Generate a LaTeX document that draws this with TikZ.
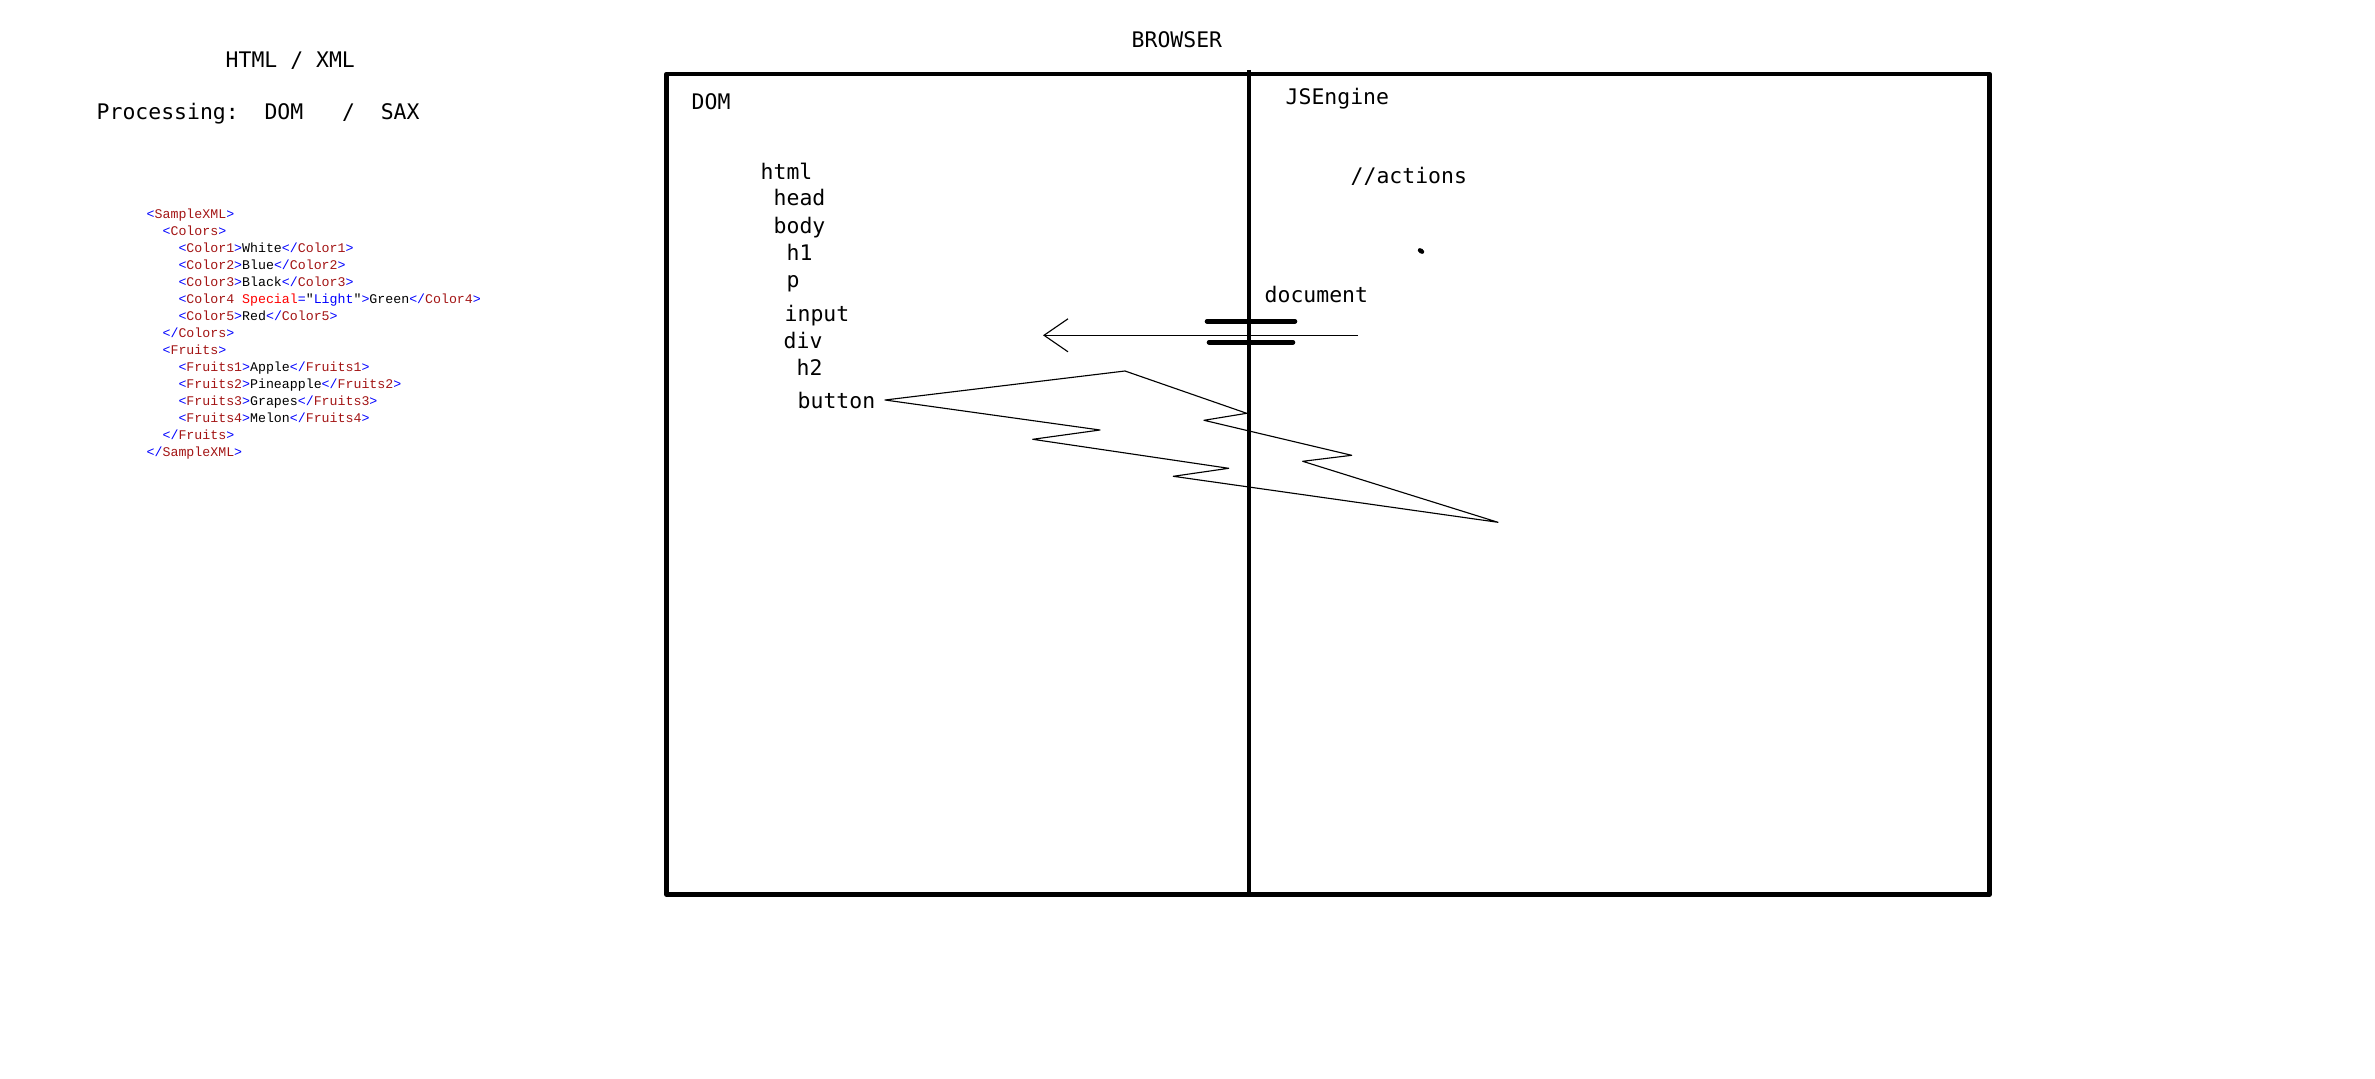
\documentclass[tikz,border=0pt]{standalone}
\usepackage{fontspec}
\setmonofont{DejaVu Sans Mono}
\newfontfamily\xmlfont{Liberation Mono}
\usetikzlibrary{arrows.meta}
\definecolor{xmlblue}{RGB}{0,0,255}
\definecolor{xmlname}{RGB}{163,21,21}
\definecolor{xmlattr}{RGB}{255,0,0}
\newcommand\xopen[1]{\textcolor{xmlblue}{<}\textcolor{xmlname}{#1}\textcolor{xmlblue}{>}}
\newcommand\xclose[1]{\textcolor{xmlblue}{</}\textcolor{xmlname}{#1}\textcolor{xmlblue}{>}}
\newcommand\xin{\phantom{xx}}
\begin{document}
\begin{tikzpicture}[x=0.01cm,y=-0.01cm,line join=round]
			\tikzset{lbl/.style={font=\ttfamily\fontsize{6.1}{7}\selectfont,anchor=base west,inner sep=0pt},
				xmlline/.style={font=\xmlfont\fontsize{3.77}{4.5}\selectfont,anchor=base west,inner sep=0pt},
				frame/.style={line width=1.3pt},
				bolt/.style={line width=0.32pt}}
			\useasboundingbox (0,0) rectangle (2375,1079);
			% left side
			\node[lbl] (title) at (225,67.3) {HTML / XML};
			\node[lbl] (proc) at (96,120) {Processing:\ \ DOM\ \ \ /\ \ SAX};
			\foreach \t [count=\i] in {\xopen{SampleXML},
				\xin\xopen{Colors},
				\xin\xin\xopen{Color1}White\xclose{Color1},
				\xin\xin\xopen{Color2}Blue\xclose{Color2},
				\xin\xin\xopen{Color3}Black\xclose{Color3},
				\xin\xin\textcolor{xmlblue}{<}\textcolor{xmlname}{Color4}\ \textcolor{xmlattr}{Special}\textcolor{xmlblue}{=}"\textcolor{xmlblue}{Light}"\textcolor{xmlblue}{>}Green\xclose{Color4},
				\xin\xin\xopen{Color5}Red\xclose{Color5},
				\xin\xclose{Colors},
				\xin\xopen{Fruits},
				\xin\xin\xopen{Fruits1}Apple\xclose{Fruits1},
				\xin\xin\xopen{Fruits2}Pineapple\xclose{Fruits2},
				\xin\xin\xopen{Fruits3}Grapes\xclose{Fruits3},
				\xin\xin\xopen{Fruits4}Melon\xclose{Fruits4},
				\xin\xclose{Fruits},
				\xclose{SampleXML}}
			\node[xmlline] (xml\i) at (146,{218.3+17*(\i-1)}) {\t};
			% browser
			\node[lbl] (browser) at (1131,47.3) {BROWSER};
			\draw[frame] (666.5,74) rectangle (1989.5,894.5);
			\draw[frame] (1249,70) -- (1249,894.5);
			\node[lbl] (dom) at (691,110) {DOM};
			\node[lbl] (jsengine) at (1285,104.3) {JSEngine};
			\node[lbl] (actions) at (1350,184) {//actions};
			\node[lbl] (document) at (1264,302.7) {document};
			\fill[rotate around={-35:(1421,251)}] (1421,251) ellipse (3.6 and 2.4);
			% dom tree
			\node[lbl] (html) at (760,179.3) {html};
			\node[lbl] (head) at (773,206) {head};
			\node[lbl] (body) at (773,233.3) {body};
			\node[lbl] (h1) at (786,260.7) {h1};
			\node[lbl] (p) at (786,287.3) {p};
			\node[lbl] (input) at (784,321.3) {input};
			\node[lbl] (div) at (783,348.3) {div};
			\node[lbl] (h2) at (796,375) {h2};
			\node[lbl] (button) at (797,409) {button};
			% access from the engine
			\draw[frame,line cap=round] (1207,321.3) -- (1295,321.3) (1209,342.3) -- (1293,342.3);
			\coordinate (from) at (1358,335.3);
			\coordinate (to) at (1043,335.3);
			\draw[bolt,-{Straight Barb[length=0.24cm,width=0.33cm,line width=0.32pt]}] (from) -- (to);
			% event
			\draw[bolt] (885,400) -- (1125,371) -- (1246.7,413.3) -- (1204,420.3) -- (1351.7,455.3)
				-- (1302.7,461.3) -- (1498,522.3) -- (1173.3,476.3) -- (1228.7,468.3)
				-- (1032.7,439.3) -- (1100,430) -- cycle;
\end{tikzpicture}
\end{document}
